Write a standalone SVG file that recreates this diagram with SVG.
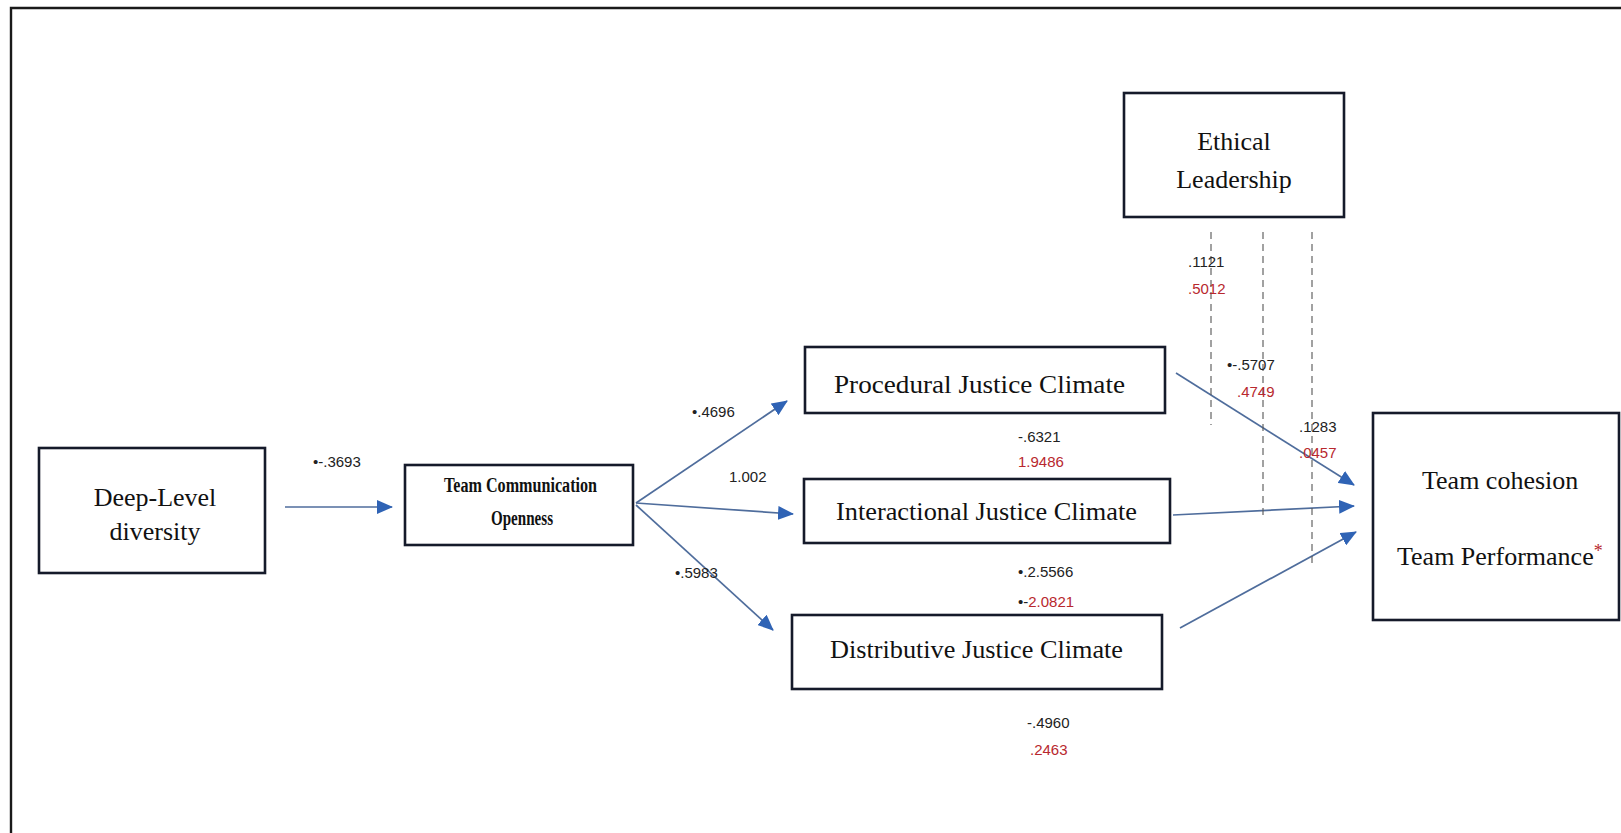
<svg xmlns="http://www.w3.org/2000/svg" width="1621" height="833" viewBox="0 0 1621 833">
<style>
.box{fill:#fff;stroke:#151a2a;stroke-width:2.6}
.lbl{font-family:"Liberation Serif","Times New Roman",serif;font-size:26px;fill:#111}
.tco{font-family:"Liberation Serif","Times New Roman",serif;font-size:20px;font-weight:bold;fill:#111}
.num{font-family:"Liberation Sans",Arial,sans-serif;font-size:15px;fill:#222}
.red{fill:#b8282e}
.arr{fill:none;stroke:#4f6d9c;stroke-width:1.7}
.dash{fill:none;stroke:#555;stroke-width:1.1;stroke-dasharray:7 5}
</style>
<defs>
<marker id="ah" markerUnits="userSpaceOnUse" markerWidth="16" markerHeight="14" refX="15" refY="7" orient="auto">
<path d="M0,0 L16,7 L0,14 z" fill="#2f63b5"/>
</marker>
</defs>
<rect width="1621" height="833" fill="#fff"/>
<g id="frame">
<path d="M11,833 V8 H1621" fill="none" stroke="#1a1a1a" stroke-width="2.4"/>
</g>
<g id="connectors">
<line class="arr" x1="285" y1="507" x2="392" y2="507" marker-end="url(#ah)"/>
<line class="arr" x1="636" y1="503" x2="787" y2="401" marker-end="url(#ah)"/>
<line class="arr" x1="636" y1="503" x2="793" y2="514" marker-end="url(#ah)"/>
<line class="arr" x1="636" y1="505" x2="773" y2="630" marker-end="url(#ah)"/>
<line class="arr" x1="1176" y1="373" x2="1354" y2="485" marker-end="url(#ah)"/>
<line class="arr" x1="1173" y1="515" x2="1354" y2="506" marker-end="url(#ah)"/>
<line class="arr" x1="1180" y1="628" x2="1356" y2="532" marker-end="url(#ah)"/>
<line class="dash" x1="1211" y1="232" x2="1211" y2="425"/>
<line class="dash" x1="1263" y1="232" x2="1263" y2="517"/>
<line class="dash" x1="1312" y1="232" x2="1312" y2="568"/>
</g>
<g id="labels">
<text class="num" x="313" y="467">•-.3693</text>
<text class="num" x="692" y="417">•.4696</text>
<text class="num" x="729" y="482">1.002</text>
<text class="num" x="675" y="578">•.5983</text>
<text class="num" x="1018" y="442">-.6321</text>
<text class="num red" x="1018" y="467">1.9486</text>
<text class="num" x="1018" y="577">•.2.5566</text>
<text class="num" x="1018" y="607">•-<tspan class="red">2.0821</tspan></text>
<text class="num" x="1027" y="728">-.4960</text>
<text class="num red" x="1030" y="755">.2463</text>
<text class="num" x="1188" y="267">.1121</text>
<text class="num red" x="1188" y="294">.5012</text>
<text class="num" x="1227" y="370">•-.5707</text>
<text class="num red" x="1237" y="397">.4749</text>
<text class="num" x="1299" y="432">.1283</text>
<text class="num red" x="1299" y="458">.0457</text>
</g>
<g id="deep-level">
<rect class="box" x="39" y="448" width="226" height="125" stroke="#111" stroke-width="3"/>
<text class="lbl" x="155" y="506" text-anchor="middle" font-size="25">Deep-Level</text>
<text class="lbl" x="155" y="540" text-anchor="middle" font-size="25">diversity</text>
</g>
<g id="team-communication">
<rect class="box" x="405" y="465" width="228" height="80" stroke="#111" stroke-width="3"/>
<text class="tco" x="444" y="492" textLength="153" lengthAdjust="spacingAndGlyphs">Team Communication</text>
<text class="tco" x="491" y="525" textLength="62" lengthAdjust="spacingAndGlyphs">Openness</text>
</g>
<g id="procedural">
<rect class="box" x="805" y="347" width="360" height="66"/>
<text class="lbl" x="834" y="393" font-size="27" textLength="291" lengthAdjust="spacingAndGlyphs">Procedural Justice Climate</text>
</g>
<g id="interactional">
<rect class="box" x="804" y="479" width="366" height="64"/>
<text class="lbl" x="836" y="520" textLength="301" lengthAdjust="spacingAndGlyphs">Interactional Justice Climate</text>
</g>
<g id="distributive">
<rect class="box" x="792" y="615" width="370" height="74"/>
<text class="lbl" x="830" y="658" textLength="293" lengthAdjust="spacingAndGlyphs">Distributive Justice Climate</text>
</g>
<g id="ethical-leadership">
<rect class="box" x="1124" y="93" width="220" height="124"/>
<text class="lbl" x="1234" y="150" text-anchor="middle">Ethical</text>
<text class="lbl" x="1234" y="188" text-anchor="middle">Leadership</text>
</g>
<g id="team-outcomes">
<rect class="box" x="1373" y="413" width="246" height="207"/>
<text class="lbl" x="1422" y="489">Team cohesion</text>
<text class="lbl" x="1397" y="565">Team Performance<tspan class="red" font-size="18" dy="-8">*</tspan></text>
</g>
</svg>
